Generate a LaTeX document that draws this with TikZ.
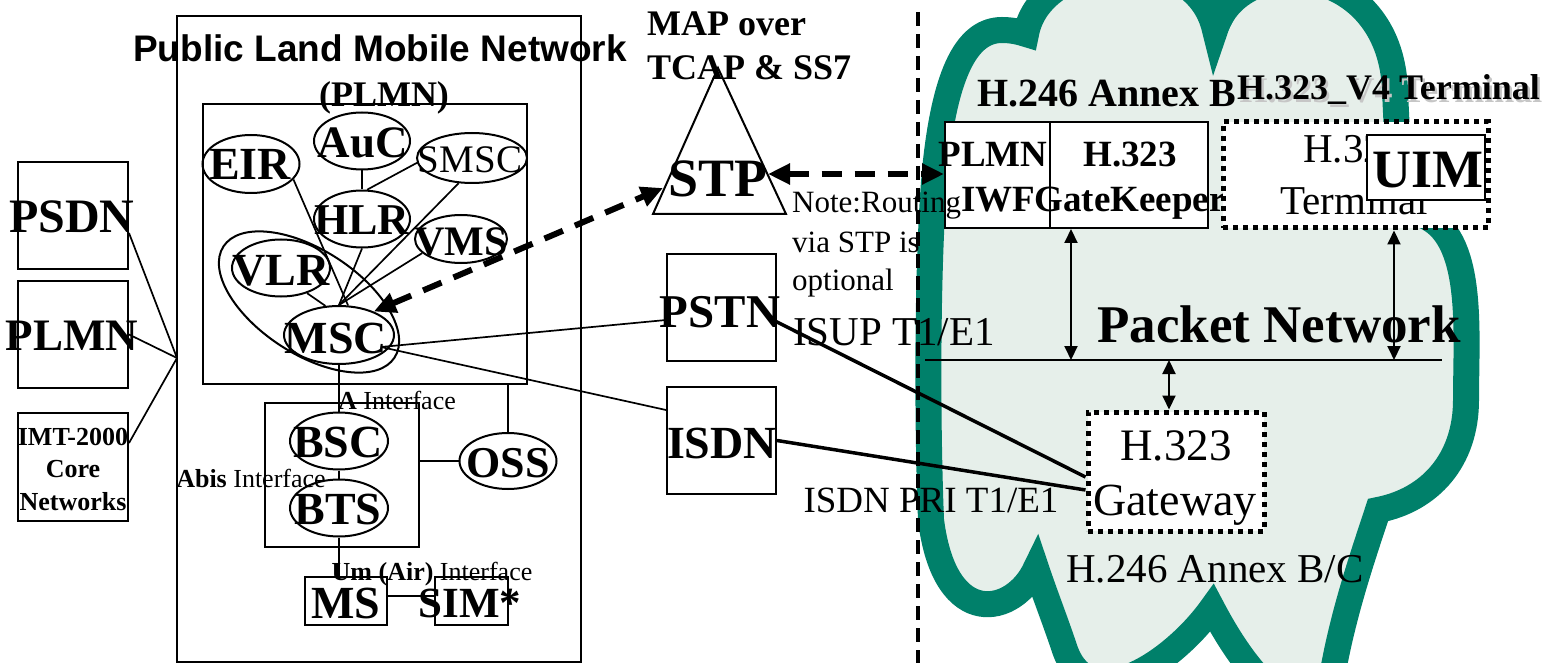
\documentclass[tikz,border=0pt]{standalone}
\usepackage{fontspec}
\setmainfont{Liberation Serif}
\newfontfamily\titlefont{Liberation Sans}
\usetikzlibrary{shapes.geometric,arrows.meta}
\definecolor{cloudline}{HTML}{00806A}
\definecolor{cloudfill}{HTML}{E6EFEA}
\newcommand\setfs[1]{\fontsize{#1pt}{#1pt}\selectfont}

\begin{document}
\begin{tikzpicture}[x=1pt,y=1pt,
  bx/.style={draw, line width=2pt, inner sep=0pt},
  el/.style={draw, ellipse, line width=2pt, inner sep=0pt},
  lbl/.style={inner sep=0pt, anchor=base},
  lblw/.style={inner sep=0pt, anchor=base west},
  wire/.style={line width=1.7pt},
  trunk/.style={line width=3.5pt},
  sig/.style={line width=6pt, dash pattern=on 20pt off 13pt,
    {Triangle[length=22pt,width=20pt]}-{Triangle[length=22pt,width=20pt]}},
  duplex/.style={line width=2pt,
    {Triangle[length=14pt,width=13pt]}-{Triangle[length=14pt,width=13pt]}},
  dotbox/.style={draw, line width=5pt, dash pattern=on 5pt off 5pt, fill=white, inner sep=0pt},
  pnetcloud/.style={draw=cloudline, fill=cloudfill, line width=26pt, line join=miter, miter limit=6},
  divider/.style={line width=3.5pt, dash pattern=on 14pt off 8pt}
]
\useasboundingbox (0,0) rectangle (1553,-663);
\clip (0,0) rectangle (1553,-663);

% ---------- packet network cloud ----------
\draw[pnetcloud] (1036,-568)
  .. controls (1015,-615) and (945,-632) .. (931,-520)
  .. controls (927,-420) and (927,-260) .. (935,-170)
  .. controls (945,-70) and (968,-30) .. (1002,-30)
  .. controls (1012,-30) and (1020,-32) .. (1026,-34)
  .. controls (1040,45) and (1195,60) .. (1215,-30)
  .. controls (1240,50) and (1390,40) .. (1395,-90)
  .. controls (1398,-160) and (1400,-205) .. (1422,-215)
  .. controls (1475,-235) and (1466,-330) .. (1466,-400)
  .. controls (1466,-460) and (1430,-500) .. (1378,-510)
  .. controls (1365,-550) and (1340,-620) .. (1330,-690)
  .. controls (1305,-730) and (1255,-690) .. (1212,-608)
  .. controls (1175,-660) and (1090,-720) .. (1065,-650)
  .. controls (1055,-620) and (1045,-595) .. cycle;
% notch between the two upper lobes
\fill[cloudline] (1197,0) -- (1244,0) -- (1218,-50) -- cycle;

% ---------- domain divider ----------
\coordinate (divtop) at (918,-12);
\coordinate (divbot) at (918,-663);
\draw[divider] (divtop) -- (divbot);

% ---------- external networks on the left ----------
\node[bx, minimum width=110pt, minimum height=107pt] (psdnbox) at (73,-215.5) {};
\node[bx, minimum width=110pt, minimum height=107pt] (plmnbox) at (73,-334.5) {};
\node[bx, minimum width=110pt, minimum height=108pt] (imtbox) at (73,-467) {};
\node[lbl] (psdn) at (72,-233) {\setfs{48}\bfseries PSDN};
\node[lbl] (plmnext) at (72,-350) {\setfs{45}\bfseries PLMN};
\node[lbl] (imt1) at (73,-445) {\setfs{26}\bfseries IMT-2000};
\node[lbl] (imt2) at (73,-477) {\setfs{26}\bfseries Core};
\node[lbl] (imt3) at (73,-510) {\setfs{26}\bfseries Networks};
\coordinate (hub) at (177,-358);
\draw[wire] ([yshift=-17.5pt]psdnbox.east) -- (hub);
\draw[wire] (plmnbox.east) -- (hub);
\draw[wire] ([yshift=24pt]imtbox.east) -- (hub);

% ---------- PLMN ----------
\node[bx, minimum width=404pt, minimum height=646pt] (plmnnet) at (379,-339) {};
\node[lbl] (plmntitle) at (380,-62) {\setfs{37}\titlefont\bfseries Public Land Mobile Network};
\node[lbl] (plmnabbr) at (384,-107) {\setfs{36}\bfseries (PLMN)};
\node[bx, minimum width=324pt, minimum height=280pt] (core) at (365,-244) {};

\node[el, minimum width=96pt, minimum height=57pt] (auc) at (362,-141) {};
\node[el, minimum width=97pt, minimum height=58pt] (eir) at (251,-164) {};
\node[el, minimum width=110pt, minimum height=50pt] (smsc) at (472,-158) {};
\node[el, minimum width=96pt, minimum height=57pt] (hlr) at (362,-219) {};
\node[el, minimum width=92pt, minimum height=48pt] (vms) at (461,-239) {};
\node[el, minimum width=98pt, minimum height=57pt] (vlr) at (281,-268) {};
\node[el, minimum width=110pt, minimum height=58pt] (msc) at (339,-335) {};
\node[el, minimum width=204pt, minimum height=104pt, rotate=-33] (vlrmsc) at (309,-302) {};

\node[lbl] (auct) at (363,-158) {\setfs{45}\bfseries AuC};
\node[lbl] (eirt) at (250,-180) {\setfs{46}\bfseries EIR};
\node[lbl] (smsct) at (470,-173) {\setfs{39}SMSC};
\node[lbl] (hlrt) at (362,-235) {\setfs{44}\bfseries HLR};
\node[lbl] (vmst) at (461,-255) {\setfs{42}\bfseries VMS};
\node[lbl] (vlrt) at (281,-285) {\setfs{46}\bfseries VLR};
\node[lbl] (msct) at (336,-353) {\setfs{46}\bfseries MSC};

\draw[wire] (auc.south) -- (hlr.north);
\draw[wire] (smsc.185) -- (hlr.80);
\draw[wire] (eir.-20) -- (msc.73);
\draw[wire] (smsc.242) -- (msc.north);
\draw[wire] (hlr.south) -- (msc.north);
\draw[wire] (vms.200) -- (msc.north);
\draw[wire] (vlr.-44) -- (msc.115);

% radio access part
\node[bx, minimum width=154pt, minimum height=144pt] (bss) at (342,-475) {};
\node[el, minimum width=98pt, minimum height=57pt, fill=white] (bsc) at (339,-441) {};
\node[el, minimum width=98pt, minimum height=57pt, fill=white] (bts) at (339,-508) {};
\node[el, minimum width=97pt, minimum height=56pt] (oss) at (508,-461) {};
\node[bx, minimum width=82pt, minimum height=48pt] (msbox) at (346,-601) {};
\node[bx, minimum width=73pt, minimum height=48pt] (simbox) at (471.5,-601) {};

\draw[wire] (msc.south) -- (bsc.north);
\draw[wire] (bsc.south) -- (bts.north);
\draw[wire] (bts.south) -- (bts.south |- msbox.north);
\draw[wire] ([yshift=5pt]msbox.east) -- ([yshift=5pt]simbox.west);
\draw[wire] (oss.north |- core.south) -- (oss.north);
\draw[wire] (bss.east |- oss.west) -- (oss.west);

\node[lbl] (bsct) at (338,-457) {\setfs{46}\bfseries BSC};
\node[lbl] (btst) at (338,-524) {\setfs{46}\bfseries BTS};
\node[lbl] (osst) at (508,-477) {\setfs{44}\bfseries OSS};
\node[lbl] (mst) at (346,-618) {\setfs{46}\bfseries MS};
\node[lbl] (simt) at (470,-617) {\setfs{43}\bfseries SIM*};
\node[lbl] (aif) at (397,-409) {\setfs{26}\textbf{A} Interface};
\node[lbl] (abisif) at (251,-487) {\setfs{26}\textbf{Abis} Interface};
\node[lbl] (umif) at (432,-580) {\setfs{26}\textbf{Um (Air)} Interface};

% ---------- signalling transfer point ----------
\coordinate (stpA) at (718,-68);
\coordinate (stpB) at (653,-214);
\coordinate (stpC) at (786,-214);
\draw[line width=2pt] (stpA) -- (stpB) -- (stpC) -- cycle;
\node[lbl] (stpt) at (718,-197) {\setfs{54}\bfseries STP};
\node[lblw] (map1) at (647,-36) {\setfs{36}\bfseries MAP over};
\node[lblw] (map2) at (647,-80) {\setfs{36}\bfseries TCAP \& SS7};
\coordinate (stpin) at (663,-188);
\coordinate (stpout) at (768,-174);

% ---------- fixed networks ----------
\node[bx, minimum width=109pt, minimum height=107pt] (pstnbox) at (721.5,-307.5) {};
\node[bx, minimum width=109pt, minimum height=107pt] (isdnbox) at (721.5,-440.5) {};
\node[lbl] (pstnt) at (720,-327) {\setfs{47}\bfseries PSTN};
\node[lbl] (isdnt) at (722,-458) {\setfs{46}\bfseries ISDN};
\node[lblw] (isup) at (793,-345) {\setfs{41}ISUP T1/E1};
\node[lbl] (pri) at (931,-512) {\setfs{37}ISDN PRI T1/E1};

\draw[wire] ([xshift=42pt,yshift=-12pt]msc.center) -- ([yshift=-12.5pt]pstnbox.west);
\draw[wire] ([xshift=42pt,yshift=-12pt]msc.center) -- ([yshift=30.5pt]isdnbox.west);

% ---------- packet side ----------
\node[bx, fill=white, minimum width=105pt, minimum height=106pt] (iwf) at (997.5,-175) {};
\node[bx, fill=white, minimum width=158pt, minimum height=106pt] (gk) at (1129,-175) {};
\node[lbl] (iwf1) at (993,-167) {\setfs{37}\bfseries PLMN};
\node[lbl] (iwf2) at (998,-212) {\setfs{37}\bfseries IWF};
\node[lbl] (gk1) at (1130,-167) {\setfs{37}\bfseries H.323};
\node[lbl] (gk2) at (1130,-212) {\setfs{37}\bfseries GateKeeper};
\node[lblw] (annexb) at (977,-107) {\setfs{40}\bfseries H.246 Annex B};
\node[lblw, text=gray!45] (v4shadow) at (1239.5,-102.5) {\setfs{36}\bfseries H.323\_V4 Terminal};
\node[lblw] (v4) at (1237,-100) {\setfs{36}\bfseries H.323\_V4 Terminal};

\node[lblw] (note1) at (792,-213) {\setfs{31}Note:Routing};
\node[lblw] (note2) at (792,-252) {\setfs{31}via STP is};
\node[lblw] (note3) at (792,-290) {\setfs{31}optional};

\node[dotbox, minimum width=265pt, minimum height=106pt] (term) at (1355.5,-175) {};
\node[lbl] (term1) at (1354,-163) {\setfs{41}H.323};
\node[lbl] (term2) at (1354,-215) {\setfs{41}Terminal};
\node[bx, fill=white, minimum width=118pt, minimum height=65pt] (uim) at (1426,-167.5) {};
\node[lbl] (uimt) at (1428,-188) {\setfs{54}\bfseries UIM};

\node[lbl] (pnet) at (1279,-342) {\setfs{53}\bfseries Packet Network};
\coordinate (netL) at (925,-360);
\coordinate (netR) at (1442,-360);
\draw[line width=2pt] (netL) -- (netR);

\node[dotbox, minimum width=176pt, minimum height=119pt] (gw) at (1176,-471.5) {};
\node[lbl] (gw1) at (1176,-460) {\setfs{45}H.323};
\node[lbl] (gw2) at (1175,-515) {\setfs{46}Gateway};
\node[lbl] (annexbc) at (1215,-582) {\setfs{41}H.246 Annex B/C};

\coordinate (ngk) at (1071,-360);
\coordinate (nterm) at (1394,-360);
\coordinate (ngw) at (1169,-360);
\draw[duplex] (ngk) -- (ngk |- gk.south);
\draw[duplex] (nterm) -- (nterm |- term.south);
\draw[duplex] (ngw) -- (ngw |- gw.north);

\draw[trunk] ([xshift=-3pt,yshift=-13pt]pstnbox.east) -- ([yshift=-5.5pt]gw.west);
\draw[trunk] (isdnbox.east) -- ([yshift=-18.5pt]gw.west);

% ---------- MAP signalling paths ----------
\draw[sig] (msc.34) -- (stpin);
\draw[sig] (stpout) -- (stpout -| iwf.west);
\end{tikzpicture}
\end{document}
